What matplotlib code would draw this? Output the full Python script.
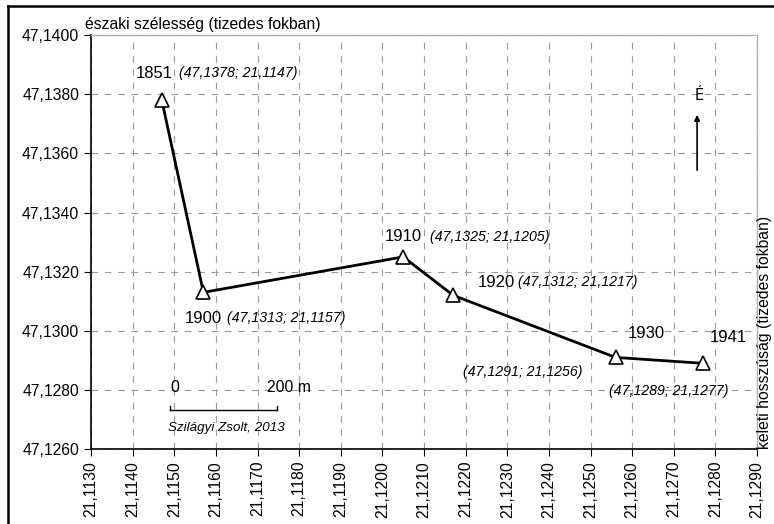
import matplotlib.pyplot as plt
from matplotlib.lines import Line2D
from matplotlib.ticker import FixedLocator, FuncFormatter
import numpy as np

plt.rcParams['font.family'] = ['Liberation Sans', 'DejaVu Sans']

# Data: positions of the point by year
years = ['1851', '1900', '1910', '1920', '1930', '1941']
lon = [21.1147, 21.1157, 21.1205, 21.1217, 21.1256, 21.1277]
lat = [47.1378, 47.1313, 47.1325, 47.1312, 47.1291, 47.1289]

x_ticks = np.round(np.arange(21.1130, 21.12901, 0.0010), 4)
y_ticks = np.round(np.arange(47.1260, 47.14001, 0.0020), 4)

# label offsets in pixels (year label, coordinate label)
year_off = [(-26, 27), (-19, -26), (-18, 20), (25, 13), (12, 24), (7, 26)]
coord_off = [(17, 27), (24, -26), (27, 20), (65, 13), (-153, -15), (-94, -28)]

fig = plt.figure(figsize=(7.74, 5.24), dpi=100)
fig.patch.set_facecolor('white')
ax = fig.add_axes([0.1176, 0.143, 0.8605, 0.790])

ax.plot(lon, lat, color='black', linewidth=2, marker='^', markersize=10,
        markerfacecolor='white', markeredgecolor='black', markeredgewidth=1.2,
        zorder=3)

ax.set_xlim(x_ticks[0], x_ticks[-1])
ax.set_ylim(y_ticks[0], y_ticks[-1])
ax.xaxis.set_major_locator(FixedLocator(x_ticks))
ax.yaxis.set_major_locator(FixedLocator(y_ticks))
comma = FuncFormatter(lambda v, p: f'{v:.4f}'.replace('.', ','))
ax.xaxis.set_major_formatter(comma)
ax.yaxis.set_major_formatter(comma)
ax.tick_params(axis='x', labelrotation=90, labelsize=11.3, length=5, direction='out', color='black')
ax.tick_params(axis='y', labelsize=11.3, length=5, direction='out', color='black')

ax.grid(True, color='#9a9a9a', linestyle=(0, (6, 6)), linewidth=0.8)
ax.set_axisbelow(True)
for s in ['top', 'right']:
    ax.spines[s].set_color('#b0b0b0')
    ax.spines[s].set_linewidth(1)
for s in ['left', 'bottom']:
    ax.spines[s].set_color('black')
    ax.spines[s].set_linewidth(1.2)

for i in range(len(years)):
    ax.annotate(years[i], (lon[i], lat[i]), xytext=year_off[i], textcoords='offset pixels',
                ha='left', va='center', fontsize=12)
    coord = '(' + f'{lat[i]:.4f}'.replace('.', ',') + '; ' + f'{lon[i]:.4f}'.replace('.', ',') + ')'
    ax.annotate(coord, (lon[i], lat[i]), xytext=coord_off[i], textcoords='offset pixels',
                ha='left', va='center', fontsize=10.2, style='italic')

# scale bar
ax.plot([0.1186, 0.2793], [0.0942, 0.0942], color='black', linewidth=1, transform=ax.transAxes)
ax.plot([0.1186, 0.1186], [0.0942, 0.1039], color='black', linewidth=1, transform=ax.transAxes)
ax.plot([0.2793, 0.2793], [0.0942, 0.1039], color='black', linewidth=1, transform=ax.transAxes)
ax.text(0.126, 0.1498, '0', transform=ax.transAxes, ha='center', va='center', fontsize=11.3)
ax.text(0.2636, 0.1498, '200 m', transform=ax.transAxes, ha='left', va='center', fontsize=11.3)
ax.text(0.1156, 0.0507, 'Szilágyi Zsolt, 2013', transform=ax.transAxes, ha='left', va='center',
        fontsize=9.6, style='italic')

# north arrow
ax.annotate('', xy=(0.91, 0.814), xytext=(0.91, 0.667), xycoords='axes fraction',
            arrowprops=dict(arrowstyle='-|>', color='black', lw=1.2, mutation_scale=8))
ax.text(0.913, 0.853, 'É', transform=ax.transAxes, ha='center', va='center', fontsize=10.5,
        family='DejaVu Sans')

# axis titles
fig.text(0.11, 0.954, 'északi szélesség (tizedes fokban)', ha='left', va='center', fontsize=11.3)
fig.text(0.988, 0.143, 'keleti hosszúság (tizedes fokban)', rotation=90, ha='center', va='bottom',
         fontsize=11.3)

# outer frame (top and left)
fig.add_artist(Line2D([8 / 774, 1], [1 - 6 / 524, 1 - 6 / 524], color='black', linewidth=1.8))
fig.add_artist(Line2D([8 / 774, 8 / 774], [0, 1 - 6 / 524], color='black', linewidth=1.8))

fig.savefig('out.png', dpi=100, facecolor='white')
